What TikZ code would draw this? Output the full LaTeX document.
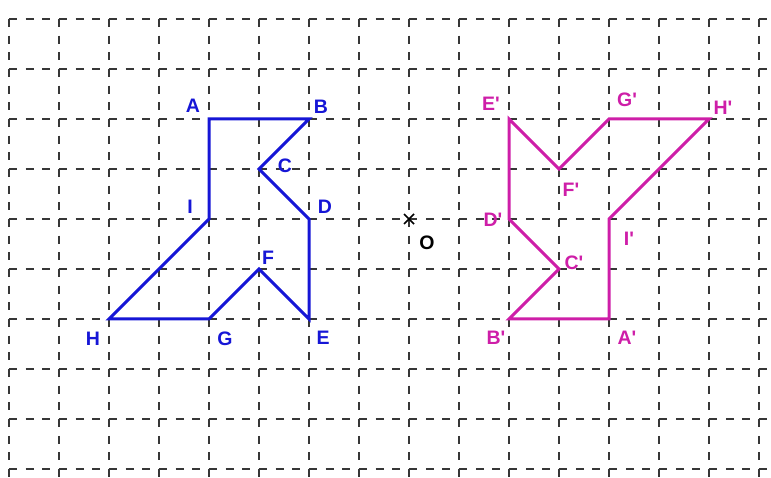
\documentclass[tikz,border=0pt]{standalone}
\usepackage{fontspec}
\setmainfont{Liberation Sans}
\definecolor{pblue}{RGB}{22,22,214}
\definecolor{pmag}{RGB}{206,30,168}
\definecolor{gridc}{RGB}{55,55,55}
\newcommand{\pr}{\textquotesingle}
\tikzset{
  gridline/.style={draw=gridc,line width=1.5pt,dash pattern=on 8pt off 8.67pt},
  shapeA/.style={draw=pblue,line width=3pt,line join=miter},
  shapeB/.style={draw=pmag,line width=3pt,line join=miter},
  lab/.style={font=\fontsize{19.5}{19.5}\selectfont\bfseries,inner sep=0pt},
  labA/.style={lab,text=pblue},
  labB/.style={lab,text=pmag},
}
\begin{document}
\begin{tikzpicture}[x=1pt,y=-1pt]
\useasboundingbox (0,0) rectangle (771,478);
% grid
\foreach \i in {0,...,15} { \draw[gridline] (9+50*\i,19) -- (9+50*\i,478); }
\foreach \j in {0,...,9} { \draw[gridline] (9,19+50*\j) -- (771,19+50*\j); }
% points
\coordinate (A) at (209,119);
\coordinate (B) at (309,119);
\coordinate (C) at (259,169);
\coordinate (D) at (309,219);
\coordinate (E) at (309,319);
\coordinate (F) at (259,269);
\coordinate (G) at (209,319);
\coordinate (H) at (109,319);
\coordinate (I) at (209,219);
\coordinate (O) at (409,219);
\coordinate (A') at (609,319);
\coordinate (B') at (509,319);
\coordinate (C') at (559,269);
\coordinate (D') at (509,219);
\coordinate (E') at (509,119);
\coordinate (F') at (559,169);
\coordinate (G') at (609,119);
\coordinate (H') at (709,119);
\coordinate (I') at (609,219);
% shapes
\draw[shapeA] (A) -- (B) -- (C) -- (D) -- (E) -- (F) -- (G) -- (H) -- (I) -- cycle;
\draw[shapeB] (A') -- (B') -- (C') -- (D') -- (E') -- (F') -- (G') -- (H') -- (I') -- cycle;
% centre
\draw[black,line width=1.5pt] ([shift={(-5,-5)}]O) -- ([shift={(5,5)}]O) ([shift={(-5,5)}]O) -- ([shift={(5,-5)}]O);
\node[lab] (lO) at (427,243) {O};
% labels
\node[labA] (lA) at (193,106) {A};
\node[labA] (lB) at (321,107) {B};
\node[labA] (lC) at (285,166) {C};
\node[labA] (lD) at (325,207) {D};
\node[labA] (lE) at (323,338) {E};
\node[labA] (lF) at (268,258) {F};
\node[labA] (lG) at (225,339) {G};
\node[labA] (lH) at (93,339) {H};
\node[labA] (lI) at (190,207) {I};
\node[labB] (lA') at (627,338) {A\pr};
\node[labB] (lB') at (496,338) {B\pr};
\node[labB] (lC') at (574,263) {C\pr};
\node[labB] (lD') at (493,220) {D\pr};
\node[labB] (lE') at (491,104) {E\pr};
\node[labB] (lF') at (571,190) {F\pr};
\node[labB] (lG') at (627,100) {G\pr};
\node[labB] (lH') at (723,108) {H\pr};
\node[labB] (lI') at (629,239) {I\pr};
\end{tikzpicture}
\end{document}
